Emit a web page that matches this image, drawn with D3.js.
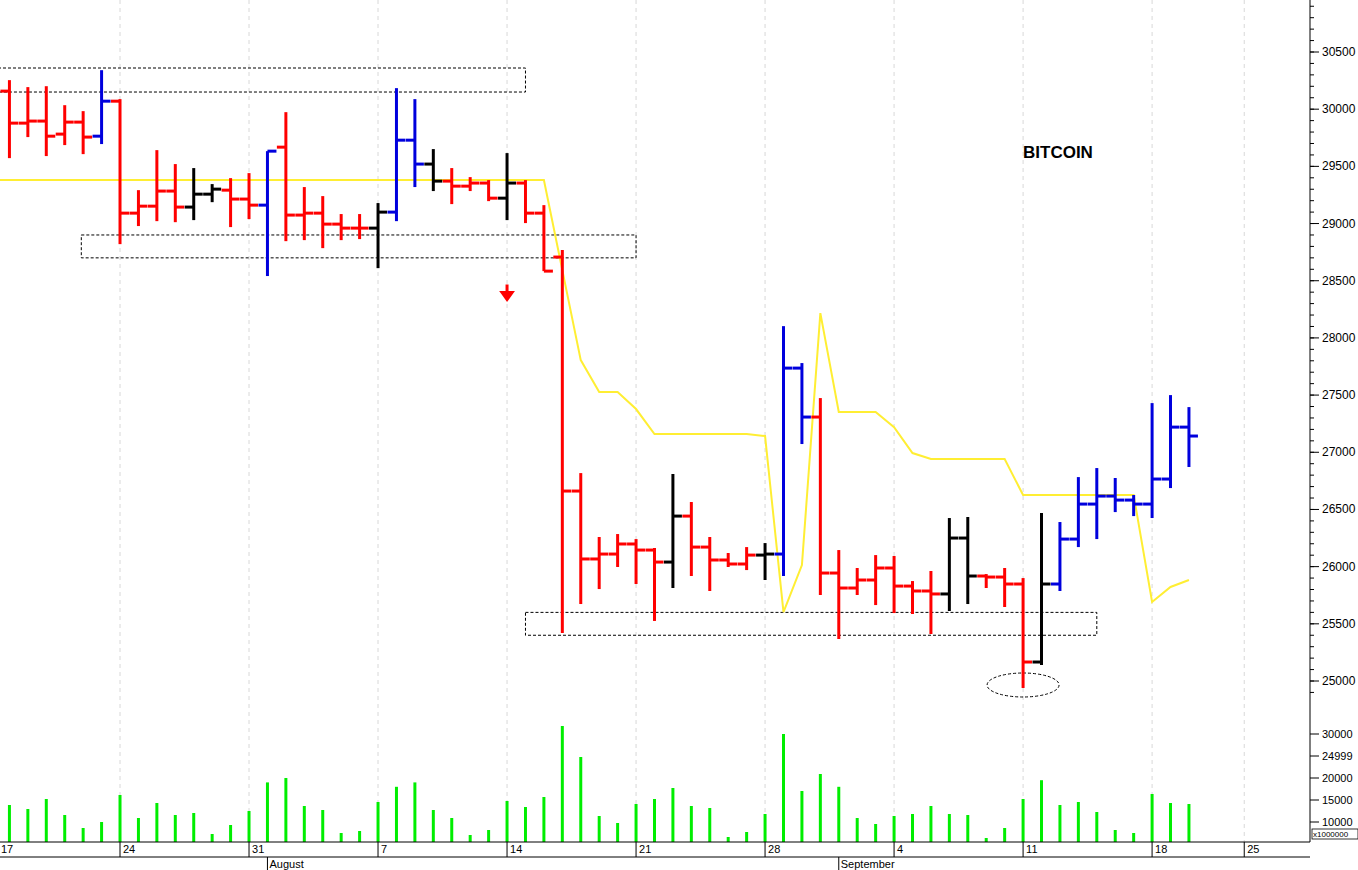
<!DOCTYPE html>
<html><head><meta charset="utf-8">
<script src="https://cdn.jsdelivr.net/npm/d3@7"></script>
<style>body{margin:0;background:#fff;overflow:hidden}svg{display:block;font-family:Arial,"Liberation Sans",sans-serif}</style>
</head><body><svg id="c" width="1358" height="870"></svg>
<script>
// day index 0 = July 17
const days   = d3.range(1,66);
const open   = [30158,29878,29896,29782,29887,29764,30070,29091,29152,29284,29144,29257,29292,29214,29161,29668,29074,29091,28995,28960,28960,29100,29729,29520,29371,29327,29354,29222,29354,29091,28707,26661,26067,26110,26198,26145,26040,26442,26171,26058,26023,26101,26110,27736,27308,25944,25813,25883,25988,25830,25787,25761,26250,25918,25909,25848,25166,25848,26241,26547,26617,26582,26547,26766,27220];
const high   = [30254,30193,30201,30035,29983,30341,30088,29292,29642,29520,29485,29345,29397,29441,29633,29974,29319,29240,29083,29083,29179,30184,30088,29651,29485,29406,29380,29616,29380,29161,28768,26818,26259,26285,26241,26163,26810,26565,26259,26119,26171,26206,28103,27780,27474,26145,25988,26101,26093,25874,25962,26425,26434,25935,25988,25900,26469,26390,26783,26862,26775,26626,27430,27500,27395];
const low    = [29572,29756,29590,29686,29607,29695,28820,28978,29021,29012,29030,29187,28969,29039,28541,28846,28855,28785,28855,28864,28610,29021,29319,29284,29170,29284,29196,29030,29004,28584,25420,25673,25804,25997,25848,25525,25813,25918,25787,25997,25970,25883,25918,27072,25752,25367,25752,25664,25594,25586,25411,25612,25673,25813,25647,24939,25140,25787,26171,26241,26477,26442,26425,26687,26871];
const close  = [29878,29896,29764,29887,29756,30070,29091,29152,29284,29144,29257,29301,29214,29161,29633,29074,29091,28995,28960,28960,29100,29729,29520,29371,29327,29354,29222,29354,29091,28584,26661,26067,26110,26198,26145,26040,26442,26171,26058,26023,26101,26110,27736,27308,25944,25813,25883,25988,25830,25787,25761,26250,25918,25909,25848,25166,25848,26241,26547,26617,26582,26547,26766,27220,27142];
const colorCode = "rrrrrbrrrrkkrrbrrrrrkbbkrrrkrrrrrrrrkrrrrkbbrrrrrrrkkrrrkbbbbbbbb";
const volume = [13864,12955,15227,11590,8636,10000,16136,10909,14318,11590,12045,7273,9318,12500,19000,20000,13636,12727,7500,7955,14545,18000,19000,12727,10909,7045,8182,14773,13409,15682,31818,24773,11364,9773,14091,15227,17727,13636,13182,6591,7727,11818,30000,17045,20909,18000,10909,9545,11364,11818,13636,11818,11590,6364,8636,15227,19500,13864,14545,12273,8182,7500,16364,14318,14091];
const avgLine = [29380,29380,29380,29380,29380,29380,29380,29380,29380,29380,29380,29380,29380,29380,29380,29380,29380,29380,29380,29380,29380,29380,29380,29380,29380,29380,29380,29380,29380,29380,29380,28593,27806,27526,27526,27378,27159,27159,27159,27159,27159,27159,27142,25603,26014,28217,27352,27352,27352,27220,26993,26941,26941,26941,26941,26941,26626,26626,26626,26626,26626,26626,26626,25691,25822,25883];
const tickDays   = [0,7,14,21,28,35,42,49,56,63,68];
const tickLabels = ["17","24","31","7","14","21","28","4","11","18","25"];
const months = [{label:"August",day:15},{label:"September",day:46}];
const priceTicks = d3.range(25000,30501,500);
const volTicks = [30000,24999,20000,15000,10000];

const svg = d3.select("#c");
const x = d3.scaleLinear().domain([0,1]).range([-9,9.43]);
const y = d3.scaleLinear().domain([25000,30500]).range([681,52]);
const yv = d3.scaleLinear().domain([10000,30000]).range([822,734]);
const colors = {r:"#ff0000",b:"#0000dd",k:"#000000"};

svg.append("g").selectAll("line").data(tickDays).join("line")
  .attr("x1",d=>x(d)).attr("x2",d=>x(d)).attr("y1",0).attr("y2",842)
  .attr("stroke","#d8d8d8").attr("stroke-dasharray","4,4");

const ann = svg.append("g").attr("fill","none").attr("stroke","#000").attr("stroke-dasharray","3,2").attr("stroke-width",1);
ann.append("rect").attr("x",-2).attr("y",y(30360)).attr("width",x(29)+2).attr("height",y(30150)-y(30360));
ann.append("rect").attr("x",x(4.9)).attr("y",y(28900)).attr("width",x(35)-x(4.9)).attr("height",y(28700)-y(28900));
ann.append("rect").attr("x",x(29)).attr("y",y(25600)).attr("width",x(60)-x(29)).attr("height",y(25400)-y(25600));
ann.append("ellipse").attr("cx",x(56)).attr("cy",y(24965)).attr("rx",36).attr("ry",12);

svg.append("path").attr("d",`M${x(28)},${y(28450)-2} v10 M${x(28)-5},${y(28450)+6} L${x(28)},${y(28450)+13} L${x(28)+5},${y(28450)+6}Z`)
  .attr("stroke","#ff0000").attr("stroke-width",3).attr("fill","#ff0000");

svg.append("path").datum(avgLine).attr("fill","none").attr("stroke","#ffee33").attr("stroke-width",2)
  .attr("d",d3.line().x((d,i)=>x(i)).y(d=>y(d)));

const bars = svg.append("g").attr("stroke-width",3);
days.forEach((d,i)=>{
  const c = colors[colorCode[i]], g = bars.append("g").attr("stroke",c);
  g.append("line").attr("x1",x(d)).attr("x2",x(d)).attr("y1",y(high[i])).attr("y2",y(low[i]));
  g.append("line").attr("x1",x(d)-9).attr("x2",x(d)).attr("y1",y(open[i])).attr("y2",y(open[i]));
  g.append("line").attr("x1",x(d)).attr("x2",x(d)+9).attr("y1",y(close[i])).attr("y2",y(close[i]));
});

svg.append("g").selectAll("line").data(volume).join("line")
  .attr("x1",(v,i)=>x(days[i])).attr("x2",(v,i)=>x(days[i])).attr("y1",v=>yv(v)).attr("y2",842)
  .attr("stroke","#00ee00").attr("stroke-width",3);

svg.append("text").attr("x",1023).attr("y",158).attr("font-size",17).attr("font-weight","bold").text("BITCOIN");

const ax = svg.append("g").attr("transform","translate(1310,0)");
ax.append("line").attr("x1",0).attr("x2",0).attr("y1",0).attr("y2",842).attr("stroke","#000");
ax.selectAll(".mn").data(d3.range(24900,31001,100).filter(d=>y(d)<700)).join("line").attr("x1",0).attr("x2",4).attr("y1",d=>y(d)).attr("y2",d=>y(d)).attr("stroke","#000");
ax.selectAll(".mj").data(priceTicks).join("line").attr("x1",0).attr("x2",9).attr("y1",d=>y(d)).attr("y2",d=>y(d)).attr("stroke","#000");
ax.selectAll(".pl").data(priceTicks).join("text").attr("x",12).attr("y",d=>y(d)+4).attr("font-size",12).text(d=>d);
ax.selectAll(".vm").data(volTicks).join("line").attr("x1",0).attr("x2",9).attr("y1",d=>yv(d)).attr("y2",d=>yv(d)).attr("stroke","#000");
ax.selectAll(".vl").data(volTicks).join("text").attr("x",12).attr("y",d=>yv(d)+4).attr("font-size",11).text(d=>d);
ax.append("rect").attr("x",2).attr("y",829).attr("width",46).attr("height",10).attr("fill","#fff").attr("stroke","#000").attr("stroke-width",0.8);
ax.append("text").attr("x",3).attr("y",837).attr("font-size",8).text("x1000000");

const bx = svg.append("g");
bx.append("line").attr("x1",0).attr("x2",1310).attr("y1",842).attr("y2",842).attr("stroke","#000");
bx.append("line").attr("x1",0).attr("x2",1310).attr("y1",857).attr("y2",857).attr("stroke","#000");
bx.selectAll(".t").data(tickDays).join("line").attr("x1",d=>x(d)).attr("x2",d=>x(d)).attr("y1",842).attr("y2",857).attr("stroke","#000");
bx.selectAll(".tl").data(tickDays).join("text").attr("x",d=>Math.max(x(d)+3,1)).attr("y",853).attr("font-size",11).text((d,i)=>tickLabels[i]);
bx.selectAll(".m").data(months).join("line").attr("x1",d=>x(d.day)).attr("x2",d=>x(d.day)).attr("y1",857).attr("y2",870).attr("stroke","#000");
bx.selectAll(".ml").data(months).join("text").attr("x",d=>x(d.day)+2).attr("y",868).attr("font-size",11).text(d=>d.label);
</script></body></html>
